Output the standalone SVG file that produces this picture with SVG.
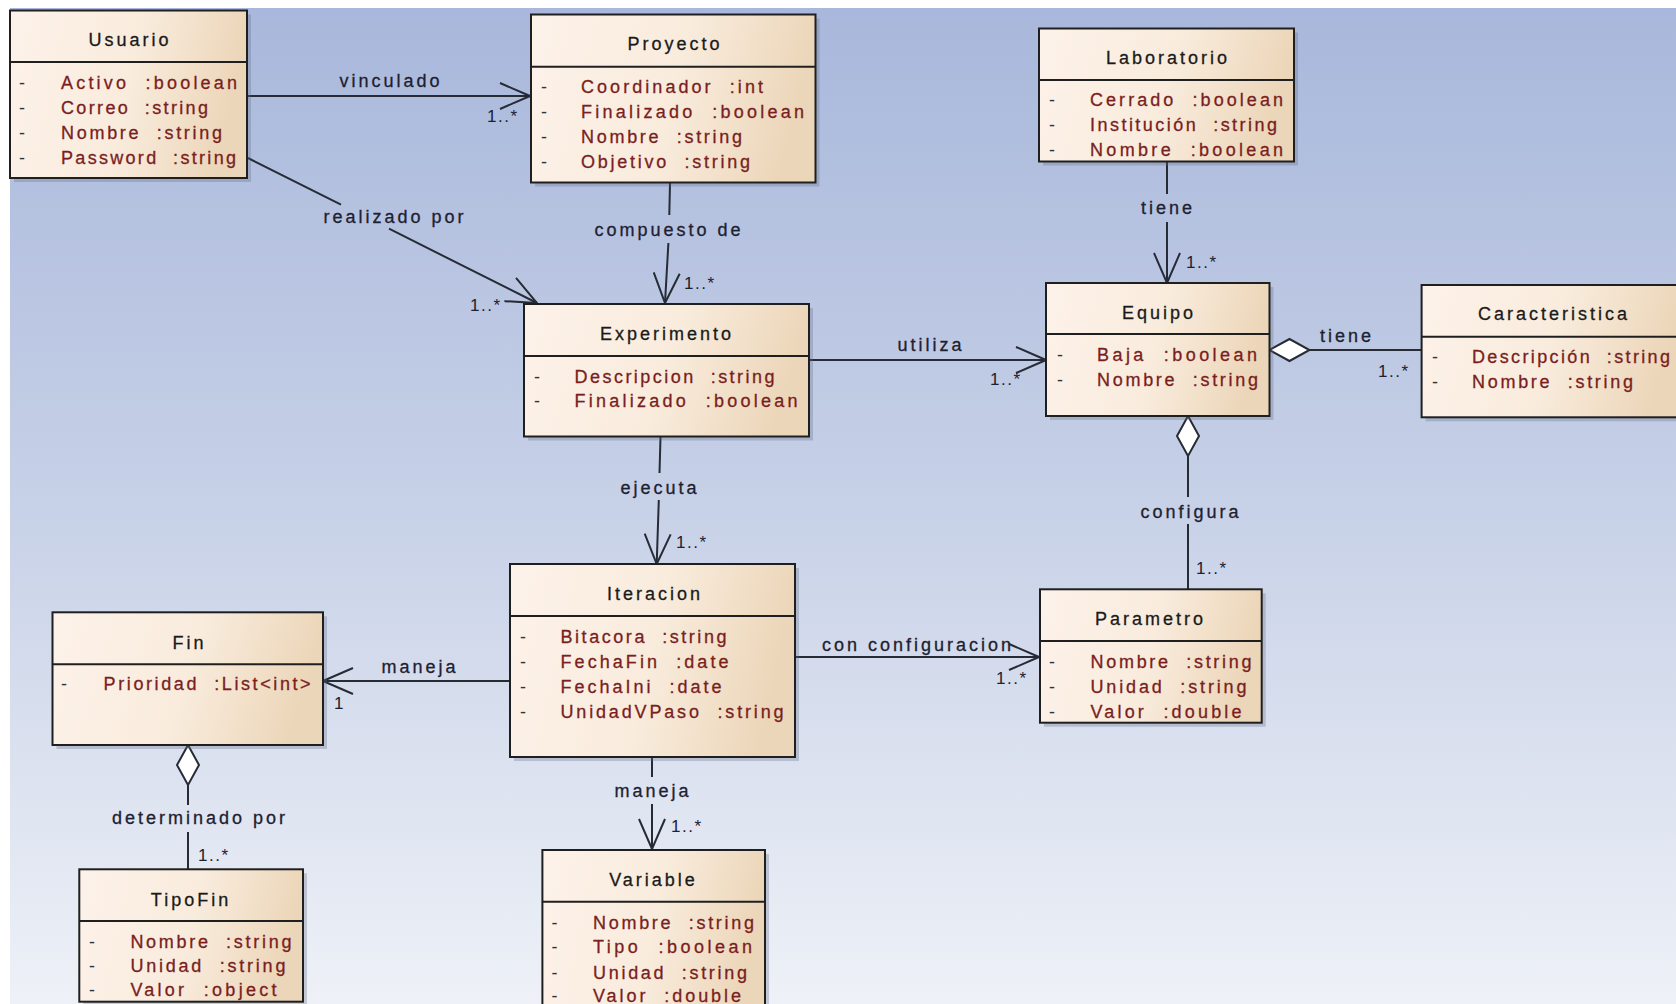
<svg xmlns="http://www.w3.org/2000/svg" width="1676" height="1004" viewBox="0 0 1676 1004">
<defs>
<linearGradient id="bg" x1="0" y1="0" x2="0" y2="1">
<stop offset="0" stop-color="#a8b7db"/>
<stop offset="0.5" stop-color="#c7d1e7"/>
<stop offset="1" stop-color="#eef1f7"/>
</linearGradient>
<linearGradient id="boxg" x1="0" y1="0" x2="1" y2="0.15">
<stop offset="0" stop-color="#fdf2ea"/>
<stop offset="0.55" stop-color="#f9ecdd"/>
<stop offset="1" stop-color="#ecd6b9"/>
</linearGradient>
<marker id="arrow" viewBox="0 0 32 28" refX="31" refY="14" markerWidth="32" markerHeight="28" orient="auto" markerUnits="userSpaceOnUse">
<path d="M1,1 L31,14 L1,27" fill="none" stroke="#262b36" stroke-width="2"/>
</marker>
<marker id="diamond" viewBox="0 0 44 28" refX="1" refY="14" markerWidth="44" markerHeight="28" orient="auto" markerUnits="userSpaceOnUse">
<path d="M1,14 L21,3 L41,14 L21,25 Z" fill="#ffffff" stroke="#262b36" stroke-width="2"/>
</marker>
<style>
.shadow{fill:#5f6b86;opacity:.3}
.box{fill:url(#boxg);stroke:#1f1f1f;stroke-width:2}
.sep{stroke:#1f1f1f;stroke-width:2}
.title{font-family:"Liberation Sans",Arial,sans-serif;font-size:18px;letter-spacing:3px;fill:#1a1a1a;stroke:#1a1a1a;stroke-width:0.3px;text-anchor:middle}
.attr{font-family:"Liberation Sans",Arial,sans-serif;font-size:18px;fill:#7a1e1e;stroke:#7a1e1e;stroke-width:0.3px;white-space:pre}
.dash{font-family:"Liberation Sans",Arial,sans-serif;font-size:18px;fill:#333333;text-anchor:middle}
.conn{fill:none;stroke:#262b36;stroke-width:2}
.lbl{font-family:"Liberation Sans",Arial,sans-serif;font-size:18px;letter-spacing:3px;fill:#1d2130;stroke:#1d2130;stroke-width:0.3px;text-anchor:middle}
.mult{font-family:"Liberation Sans",Arial,sans-serif;font-size:17px;letter-spacing:1.5px;fill:#1d2130}
</style>
</defs>
<rect x="0" y="0" width="1676" height="1004" fill="#ffffff"/>
<rect x="10" y="8" width="1666" height="996" fill="url(#bg)"/>

<g id="connectors">
<path class="conn" d="M247,96 L530,96" marker-end="url(#arrow)"/>
<text class="lbl" x="391" y="87">vinculado</text>
<text class="mult" x="487" y="122">1..*</text>

<path class="conn" d="M248,158 L341,204.7 M389,228.7 L537,303" marker-end="url(#arrow)"/>
<text class="lbl" x="395" y="223">realizado por</text>
<text class="mult" x="470" y="311">1..*</text>

<path class="conn" d="M670,183 L669.3,215 M668.4,243 L665,303" marker-end="url(#arrow)"/>
<text class="lbl" x="669" y="236">compuesto de</text>
<text class="mult" x="684" y="289">1..*</text>

<path class="conn" d="M809,360 L1046,360" marker-end="url(#arrow)"/>
<text class="lbl" x="931" y="351">utiliza</text>
<text class="mult" x="990" y="385">1..*</text>

<path class="conn" d="M660.5,437 L659.5,473 M658.8,500 L656.7,564" marker-end="url(#arrow)"/>
<text class="lbl" x="660" y="494">ejecuta</text>
<text class="mult" x="676" y="548">1..*</text>

<path class="conn" d="M1167,162 L1167,194 M1167,222 L1167,283" marker-end="url(#arrow)"/>
<text class="lbl" x="1168" y="214">tiene</text>
<text class="mult" x="1186" y="268">1..*</text>

<path class="conn" d="M1269.5,350 L1421.6,350" marker-start="url(#diamond)"/>
<text class="lbl" x="1347" y="342">tiene</text>
<text class="mult" x="1378" y="377">1..*</text>

<path class="conn" d="M1188,416 L1188,497 M1188,524 L1188,589" marker-start="url(#diamond)"/>
<text class="lbl" x="1191" y="518">configura</text>
<text class="mult" x="1196" y="574">1..*</text>

<path class="conn" d="M795,657 L1039,657" marker-end="url(#arrow)"/>
<text class="lbl" x="918" y="651">con configuracion</text>
<text class="mult" x="996" y="684">1..*</text>

<path class="conn" d="M510,681 L323,681" marker-end="url(#arrow)"/>
<text class="lbl" x="420" y="673">maneja</text>
<text class="mult" x="334" y="709">1</text>

<path class="conn" d="M652,757 L652,777 M652,804 L652,849" marker-end="url(#arrow)"/>
<text class="lbl" x="653" y="797">maneja</text>
<text class="mult" x="671" y="832">1..*</text>

<path class="conn" d="M188,745 L188,805 M188,832 L188,869" marker-start="url(#diamond)"/>
<text class="lbl" x="200" y="824">determinado por</text>
<text class="mult" x="198" y="861">1..*</text>
</g>

<g id="Usuario">
<rect class="shadow" x="14" y="14.5" width="237" height="167.5"/>
<rect class="box" x="10" y="10.5" width="237" height="167.5"/>
<line class="sep" x1="10" y1="62" x2="247" y2="62"/>
<text class="title" x="130" y="46">Usuario</text>
<text class="dash" x="22" y="89">-</text><text class="attr" x="61" y="89" textLength="176" lengthAdjust="spacing">Activo  :boolean</text>
<text class="dash" x="22" y="114">-</text><text class="attr" x="61" y="114" textLength="147" lengthAdjust="spacing">Correo  :string</text>
<text class="dash" x="22" y="139">-</text><text class="attr" x="61" y="139" textLength="161" lengthAdjust="spacing">Nombre  :string</text>
<text class="dash" x="22" y="164">-</text><text class="attr" x="61" y="164" textLength="175" lengthAdjust="spacing">Password  :string</text>
</g>

<g id="Proyecto">
<rect class="shadow" x="535" y="18.5" width="284.5" height="168"/>
<rect class="box" x="531" y="14.5" width="284.5" height="168"/>
<line class="sep" x1="531" y1="66.7" x2="815.5" y2="66.7"/>
<text class="title" x="675" y="50">Proyecto</text>
<text class="dash" x="544" y="93">-</text><text class="attr" x="581" y="93" textLength="182" lengthAdjust="spacing">Coordinador  :int</text>
<text class="dash" x="544" y="118">-</text><text class="attr" x="581" y="118" textLength="223" lengthAdjust="spacing">Finalizado  :boolean</text>
<text class="dash" x="544" y="143">-</text><text class="attr" x="581" y="143" textLength="161" lengthAdjust="spacing">Nombre  :string</text>
<text class="dash" x="544" y="168">-</text><text class="attr" x="581" y="168" textLength="169" lengthAdjust="spacing">Objetivo  :string</text>
</g>

<g id="Laboratorio">
<rect class="shadow" x="1043" y="32.5" width="255" height="133"/>
<rect class="box" x="1039" y="28.5" width="255" height="133"/>
<line class="sep" x1="1039" y1="80" x2="1294" y2="80"/>
<text class="title" x="1168" y="64">Laboratorio</text>
<text class="dash" x="1052" y="106">-</text><text class="attr" x="1090" y="106" textLength="193" lengthAdjust="spacing">Cerrado  :boolean</text>
<text class="dash" x="1052" y="131">-</text><text class="attr" x="1090" y="131" textLength="187" lengthAdjust="spacing">Institución  :string</text>
<text class="dash" x="1052" y="156">-</text><text class="attr" x="1090" y="156" textLength="193" lengthAdjust="spacing">Nombre  :boolean</text>
</g>

<g id="Experimento">
<rect class="shadow" x="528" y="308" width="285" height="132.5"/>
<rect class="box" x="524" y="304" width="285" height="132.5"/>
<line class="sep" x1="524" y1="356" x2="809" y2="356"/>
<text class="title" x="667" y="339.5">Experimento</text>
<text class="dash" x="537" y="383">-</text><text class="attr" x="574.5" y="383" textLength="200" lengthAdjust="spacing">Descripcion  :string</text>
<text class="dash" x="537" y="407">-</text><text class="attr" x="574.5" y="407" textLength="223" lengthAdjust="spacing">Finalizado  :boolean</text>
</g>

<g id="Equipo">
<rect class="shadow" x="1050" y="287" width="223.5" height="133"/>
<rect class="box" x="1046" y="283" width="223.5" height="133"/>
<line class="sep" x1="1046" y1="334" x2="1269.5" y2="334"/>
<text class="title" x="1159" y="319">Equipo</text>
<text class="dash" x="1060" y="360.5">-</text><text class="attr" x="1097" y="360.5" textLength="160" lengthAdjust="spacing">Baja  :boolean</text>
<text class="dash" x="1060" y="385.5">-</text><text class="attr" x="1097" y="385.5" textLength="161" lengthAdjust="spacing">Nombre  :string</text>
</g>

<g id="Caracteristica">
<rect class="shadow" x="1425.6" y="289" width="260" height="132.3"/>
<rect class="box" x="1421.6" y="285" width="260" height="132.3"/>
<line class="sep" x1="1421.6" y1="336.7" x2="1682" y2="336.7"/>
<text class="title" x="1554" y="320">Caracteristica</text>
<text class="dash" x="1435" y="363">-</text><text class="attr" x="1472" y="363" textLength="198" lengthAdjust="spacing">Descripción  :string</text>
<text class="dash" x="1435" y="388">-</text><text class="attr" x="1472" y="388" textLength="161" lengthAdjust="spacing">Nombre  :string</text>
</g>

<g id="Iteracion">
<rect class="shadow" x="514" y="568" width="285" height="193"/>
<rect class="box" x="510" y="564" width="285" height="193"/>
<line class="sep" x1="510" y1="616" x2="795" y2="616"/>
<text class="title" x="655" y="599.5">Iteracion</text>
<text class="dash" x="523" y="643">-</text><text class="attr" x="560.5" y="643" textLength="166" lengthAdjust="spacing">Bitacora  :string</text>
<text class="dash" x="523" y="668">-</text><text class="attr" x="560.5" y="668" textLength="168" lengthAdjust="spacing">FechaFin  :date</text>
<text class="dash" x="523" y="693">-</text><text class="attr" x="560.5" y="693" textLength="161" lengthAdjust="spacing">FechaIni  :date</text>
<text class="dash" x="523" y="718">-</text><text class="attr" x="560.5" y="718" textLength="223" lengthAdjust="spacing">UnidadVPaso  :string</text>
</g>

<g id="Parametro">
<rect class="shadow" x="1044" y="593.3" width="221.7" height="133.4"/>
<rect class="box" x="1040" y="589.3" width="221.7" height="133.4"/>
<line class="sep" x1="1040" y1="641" x2="1261.7" y2="641"/>
<text class="title" x="1150.5" y="625">Parametro</text>
<text class="dash" x="1052" y="668">-</text><text class="attr" x="1090.5" y="668" textLength="161" lengthAdjust="spacing">Nombre  :string</text>
<text class="dash" x="1052" y="693">-</text><text class="attr" x="1090.5" y="693" textLength="156" lengthAdjust="spacing">Unidad  :string</text>
<text class="dash" x="1052" y="718">-</text><text class="attr" x="1090.5" y="718" textLength="151" lengthAdjust="spacing">Valor  :double</text>
</g>

<g id="Fin">
<rect class="shadow" x="56.5" y="616.3" width="270.5" height="132.7"/>
<rect class="box" x="52.5" y="612.3" width="270.5" height="132.7"/>
<line class="sep" x1="52.5" y1="664.3" x2="323" y2="664.3"/>
<text class="title" x="189.5" y="649">Fin</text>
<text class="dash" x="64" y="690">-</text><text class="attr" x="103.6" y="690" textLength="207" lengthAdjust="spacing">Prioridad  :List&lt;int&gt;</text>
</g>

<g id="TipoFin">
<rect class="shadow" x="83.3" y="873.3" width="223.7" height="132.4"/>
<rect class="box" x="79.3" y="869.3" width="223.7" height="132.4"/>
<line class="sep" x1="79.3" y1="921" x2="303" y2="921"/>
<text class="title" x="191" y="905.5">TipoFin</text>
<text class="dash" x="92" y="948">-</text><text class="attr" x="130.4" y="948" textLength="161" lengthAdjust="spacing">Nombre  :string</text>
<text class="dash" x="92" y="972">-</text><text class="attr" x="130.4" y="972" textLength="155" lengthAdjust="spacing">Unidad  :string</text>
<text class="dash" x="92" y="996">-</text><text class="attr" x="130.4" y="996" textLength="146" lengthAdjust="spacing">Valor  :object</text>
</g>

<g id="Variable">
<rect class="shadow" x="546.4" y="854" width="222.6" height="170"/>
<rect class="box" x="542.4" y="850" width="222.6" height="170"/>
<line class="sep" x1="542.4" y1="901.7" x2="765" y2="901.7"/>
<text class="title" x="653.5" y="885.5">Variable</text>
<text class="dash" x="554.6" y="928.5">-</text><text class="attr" x="593" y="928.5" textLength="161" lengthAdjust="spacing">Nombre  :string</text>
<text class="dash" x="554.6" y="953">-</text><text class="attr" x="593" y="953" textLength="159" lengthAdjust="spacing">Tipo  :boolean</text>
<text class="dash" x="554.6" y="978.5">-</text><text class="attr" x="593" y="978.5" textLength="154" lengthAdjust="spacing">Unidad  :string</text>
<text class="dash" x="554.6" y="1002">-</text><text class="attr" x="593" y="1002" textLength="148" lengthAdjust="spacing">Valor  :double</text>
</g>
</svg>
